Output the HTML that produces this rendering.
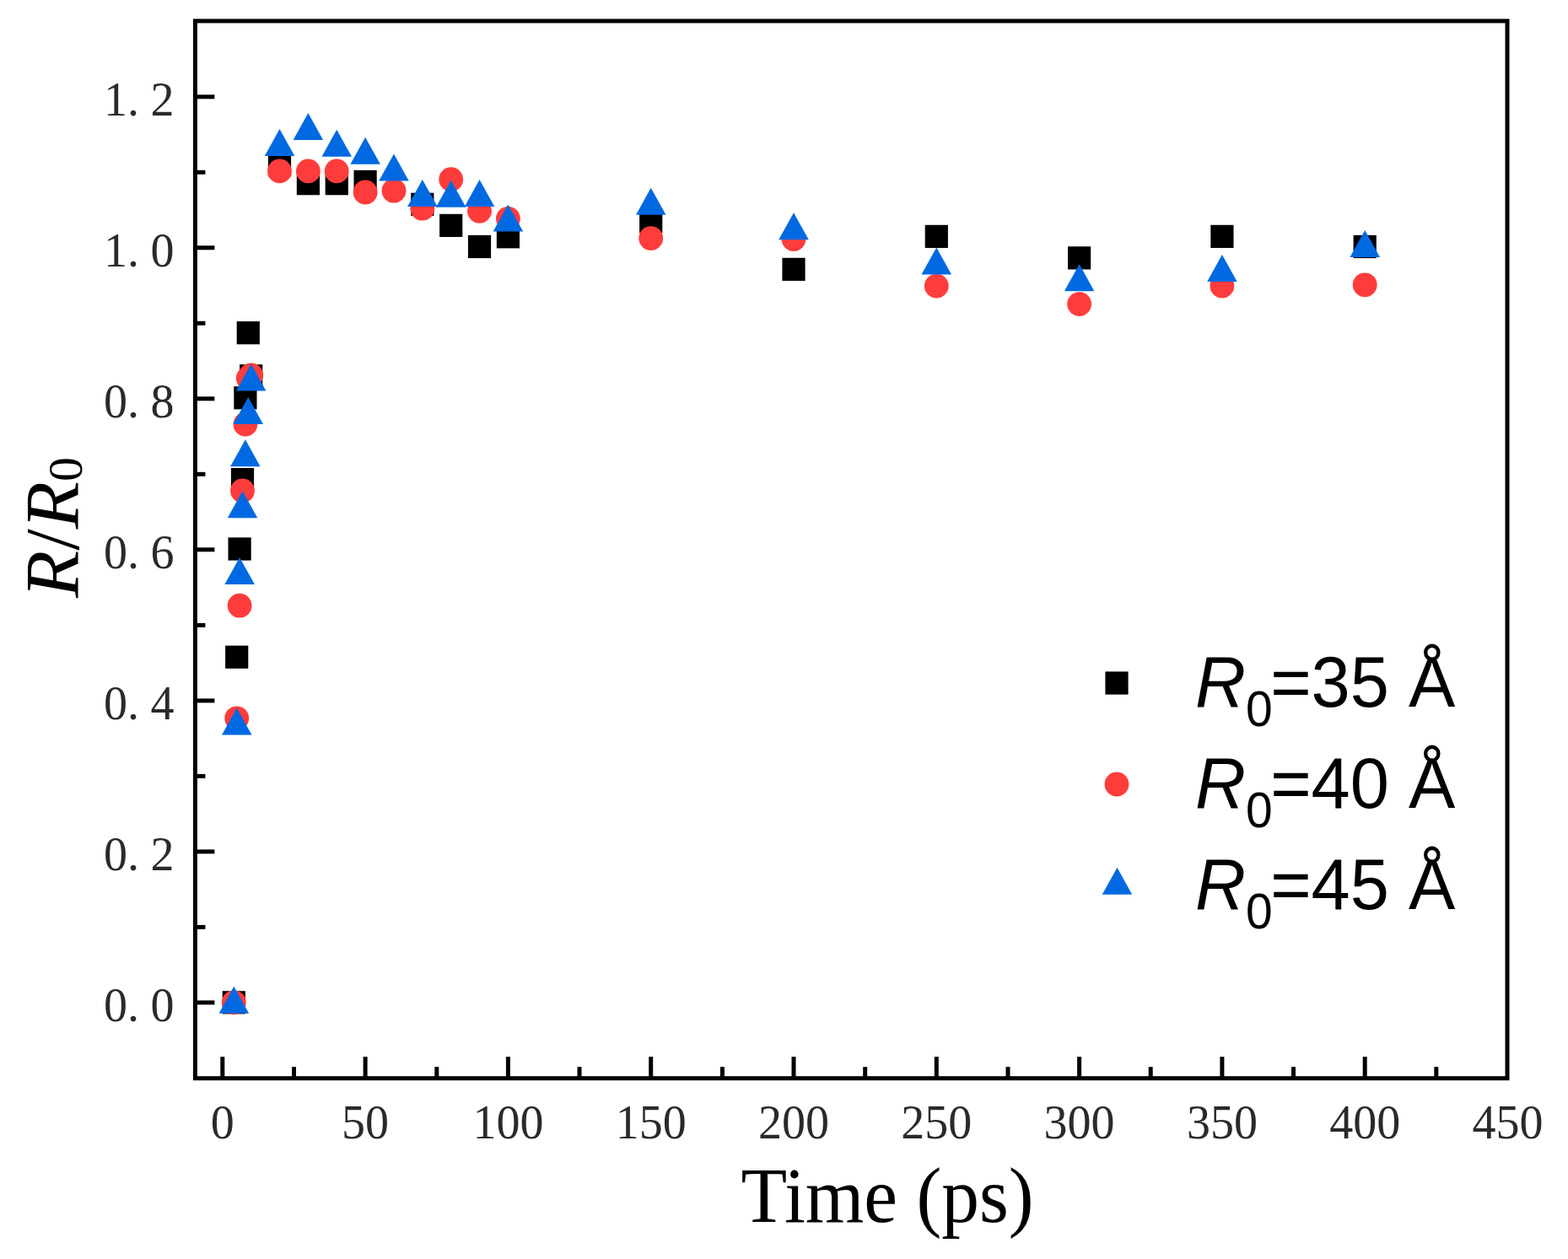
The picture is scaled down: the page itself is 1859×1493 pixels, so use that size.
<!DOCTYPE html>
<html><head><meta charset="utf-8"><title>R/R0 vs Time</title>
<style>
html,body{margin:0;padding:0;background:#fff;}
body{width:1859px;height:1493px;overflow:hidden;}
svg{display:block;}
.tk{font-family:"Liberation Serif","Noto Serif CJK SC",serif;font-size:56px;fill:#2a2a2a;}
.lg{font-family:"Liberation Sans",Arial,sans-serif;font-size:83px;fill:#000;}
.sub{font-size:57px;}
.ax{font-family:"Liberation Serif","Noto Serif CJK SC",serif;font-size:92px;fill:#000;}
</style></head>
<body>
<svg width="1859" height="1493" viewBox="0 0 1859 1493">
<rect width="1859" height="1493" fill="#fff"/>
<g stroke="#000" stroke-width="5" stroke-linecap="butt"><line x1="263.8" y1="1278.7" x2="263.8" y2="1253.2"/><line x1="348.5" y1="1278.7" x2="348.5" y2="1265.2"/><line x1="433.1" y1="1278.7" x2="433.1" y2="1253.2"/><line x1="517.8" y1="1278.7" x2="517.8" y2="1265.2"/><line x1="602.4" y1="1278.7" x2="602.4" y2="1253.2"/><line x1="687.0" y1="1278.7" x2="687.0" y2="1265.2"/><line x1="771.7" y1="1278.7" x2="771.7" y2="1253.2"/><line x1="856.4" y1="1278.7" x2="856.4" y2="1265.2"/><line x1="941.0" y1="1278.7" x2="941.0" y2="1253.2"/><line x1="1025.7" y1="1278.7" x2="1025.7" y2="1265.2"/><line x1="1110.3" y1="1278.7" x2="1110.3" y2="1253.2"/><line x1="1195.0" y1="1278.7" x2="1195.0" y2="1265.2"/><line x1="1279.6" y1="1278.7" x2="1279.6" y2="1253.2"/><line x1="1364.2" y1="1278.7" x2="1364.2" y2="1265.2"/><line x1="1448.9" y1="1278.7" x2="1448.9" y2="1253.2"/><line x1="1533.5" y1="1278.7" x2="1533.5" y2="1265.2"/><line x1="1618.2" y1="1278.7" x2="1618.2" y2="1253.2"/><line x1="1702.8" y1="1278.7" x2="1702.8" y2="1265.2"/><line x1="231.4" y1="1188.9" x2="254.4" y2="1188.9"/><line x1="231.4" y1="1099.4" x2="243.4" y2="1099.4"/><line x1="231.4" y1="1009.9" x2="254.4" y2="1009.9"/><line x1="231.4" y1="920.4" x2="243.4" y2="920.4"/><line x1="231.4" y1="830.9" x2="254.4" y2="830.9"/><line x1="231.4" y1="741.4" x2="243.4" y2="741.4"/><line x1="231.4" y1="651.8" x2="254.4" y2="651.8"/><line x1="231.4" y1="562.3" x2="243.4" y2="562.3"/><line x1="231.4" y1="472.8" x2="254.4" y2="472.8"/><line x1="231.4" y1="383.3" x2="243.4" y2="383.3"/><line x1="231.4" y1="293.8" x2="254.4" y2="293.8"/><line x1="231.4" y1="204.3" x2="243.4" y2="204.3"/><line x1="231.4" y1="114.8" x2="254.4" y2="114.8"/></g>
<g fill="#000"><rect x="263.7" y="1175.2" width="27.2" height="27.2"/><rect x="267.1" y="765.6" width="27.2" height="27.2"/><rect x="270.5" y="637.4" width="27.2" height="27.2"/><rect x="273.9" y="555.0" width="27.2" height="27.2"/><rect x="277.3" y="458.2" width="27.2" height="27.2"/><rect x="280.7" y="381.1" width="27.2" height="27.2"/><rect x="284.1" y="432.2" width="27.2" height="27.2"/><rect x="317.9" y="182.1" width="27.2" height="27.2"/><rect x="351.8" y="204.1" width="27.2" height="27.2"/><rect x="385.6" y="204.1" width="27.2" height="27.2"/><rect x="419.5" y="201.8" width="27.2" height="27.2"/><rect x="487.2" y="228.7" width="27.2" height="27.2"/><rect x="521.1" y="253.8" width="27.2" height="27.2"/><rect x="554.9" y="278.9" width="27.2" height="27.2"/><rect x="588.8" y="267.2" width="27.2" height="27.2"/><rect x="758.1" y="249.3" width="27.2" height="27.2"/><rect x="927.4" y="305.8" width="27.2" height="27.2"/><rect x="1096.7" y="266.8" width="27.2" height="27.2"/><rect x="1266.0" y="292.3" width="27.2" height="27.2"/><rect x="1435.3" y="266.8" width="27.2" height="27.2"/><rect x="1604.6" y="278.9" width="27.2" height="27.2"/></g>
<g fill="#ff3c3c"><circle cx="277.3" cy="1188.8" r="14.4"/><circle cx="280.7" cy="851.8" r="14.4"/><circle cx="284.1" cy="718.2" r="14.4"/><circle cx="287.5" cy="582.0" r="14.4"/><circle cx="290.9" cy="503.1" r="14.4"/><circle cx="294.3" cy="448.5" r="14.4"/><circle cx="297.7" cy="444.9" r="14.4"/><circle cx="331.5" cy="202.9" r="14.4"/><circle cx="365.4" cy="202.9" r="14.4"/><circle cx="399.2" cy="202.9" r="14.4"/><circle cx="433.1" cy="228.0" r="14.4"/><circle cx="467.0" cy="226.2" r="14.4"/><circle cx="500.8" cy="247.2" r="14.4"/><circle cx="534.7" cy="212.7" r="14.4"/><circle cx="568.5" cy="250.4" r="14.4"/><circle cx="602.4" cy="259.3" r="14.4"/><circle cx="771.7" cy="282.6" r="14.4"/><circle cx="941.0" cy="283.5" r="14.4"/><circle cx="1110.3" cy="339.1" r="14.4"/><circle cx="1279.6" cy="360.6" r="14.4"/><circle cx="1448.9" cy="339.1" r="14.4"/><circle cx="1618.2" cy="337.8" r="14.4"/></g>
<g fill="#0069e2"><polygon points="277.3,1169.7 295.1,1201.7 259.6,1201.7"/><polygon points="280.7,839.4 298.5,871.4 263.0,871.4"/><polygon points="284.1,661.1 301.9,693.1 266.4,693.1"/><polygon points="287.5,582.2 305.3,614.2 269.8,614.2"/><polygon points="290.9,521.2 308.6,553.2 273.1,553.2"/><polygon points="294.3,471.0 312.0,503.0 276.5,503.0"/><polygon points="297.7,431.6 315.4,463.6 279.9,463.6"/><polygon points="331.5,152.9 349.3,184.9 313.8,184.9"/><polygon points="365.4,134.0 383.1,166.0 347.6,166.0"/><polygon points="399.2,153.8 417.0,185.8 381.5,185.8"/><polygon points="433.1,162.7 450.9,194.7 415.4,194.7"/><polygon points="467.0,182.4 484.7,214.4 449.2,214.4"/><polygon points="500.8,212.9 518.6,244.9 483.1,244.9"/><polygon points="534.7,213.8 552.4,245.8 516.9,245.8"/><polygon points="568.5,212.9 586.3,244.9 550.8,244.9"/><polygon points="602.4,242.5 620.2,274.5 584.7,274.5"/><polygon points="771.7,222.8 789.5,254.8 754.0,254.8"/><polygon points="941.0,252.3 958.8,284.3 923.2,284.3"/><polygon points="1110.3,293.6 1128.0,325.6 1092.5,325.6"/><polygon points="1279.6,313.3 1297.4,345.3 1261.9,345.3"/><polygon points="1448.9,302.1 1466.7,334.1 1431.2,334.1"/><polygon points="1618.2,273.0 1636.0,305.0 1600.5,305.0"/></g>
<rect x="231.4" y="24.9" width="1555.6" height="1253.8" fill="none" stroke="#000" stroke-width="5"/>
<g class="tk"><text x="263.8" y="1349.5" text-anchor="middle">0</text><text x="433.1" y="1349.5" text-anchor="middle">50</text><text x="602.4" y="1349.5" text-anchor="middle">100</text><text x="771.7" y="1349.5" text-anchor="middle">150</text><text x="941.0" y="1349.5" text-anchor="middle">200</text><text x="1110.3" y="1349.5" text-anchor="middle">250</text><text x="1279.6" y="1349.5" text-anchor="middle">300</text><text x="1448.9" y="1349.5" text-anchor="middle">350</text><text x="1618.2" y="1349.5" text-anchor="middle">400</text><text x="1787.5" y="1349.5" text-anchor="middle">450</text><text x="206.5" y="1210.6" text-anchor="end">0.<tspan dx="13.5">0</tspan></text><text x="206.5" y="1031.6" text-anchor="end">0.<tspan dx="13.5">2</tspan></text><text x="206.5" y="852.6" text-anchor="end">0.<tspan dx="13.5">4</tspan></text><text x="206.5" y="673.5" text-anchor="end">0.<tspan dx="13.5">6</tspan></text><text x="206.5" y="494.5" text-anchor="end">0.<tspan dx="13.5">8</tspan></text><text x="206.5" y="315.5" text-anchor="end">1.<tspan dx="13.5">0</tspan></text><text x="206.5" y="136.5" text-anchor="end">1.<tspan dx="13.5">2</tspan></text></g>
<text class="ax" transform="translate(1052,1449) scale(1,1.035)" text-anchor="middle" style="font-size:89.5px">Time (ps)</text>
<text class="ax" transform="translate(93,625.5) rotate(-90)" text-anchor="middle"><tspan font-style="italic">R</tspan><tspan>/</tspan><tspan font-style="italic">R</tspan><tspan font-size="58" dy="4">0</tspan></text>
<rect x="1310.4" y="796.4" width="27.2" height="27.2" fill="#000"/><circle cx="1324" cy="930" r="14.4" fill="#ff3c3c"/><g fill="#0069e2"><polygon points="1324.5,1028.7 1342.2,1060.7 1306.8,1060.7"/></g><text transform="translate(1417,837.5) scale(1,1.035)" class="lg"><tspan font-style="italic">R</tspan><tspan class="sub" dy="23">0</tspan><tspan dy="-23" dx="-2.5">=35 Å</tspan></text><text transform="translate(1417,957.5) scale(1,1.035)" class="lg"><tspan font-style="italic">R</tspan><tspan class="sub" dy="23">0</tspan><tspan dy="-23" dx="-2.5">=40 Å</tspan></text><text transform="translate(1417,1077.5) scale(1,1.035)" class="lg"><tspan font-style="italic">R</tspan><tspan class="sub" dy="23">0</tspan><tspan dy="-23" dx="-2.5">=45 Å</tspan></text>
</svg>
</body></html>
